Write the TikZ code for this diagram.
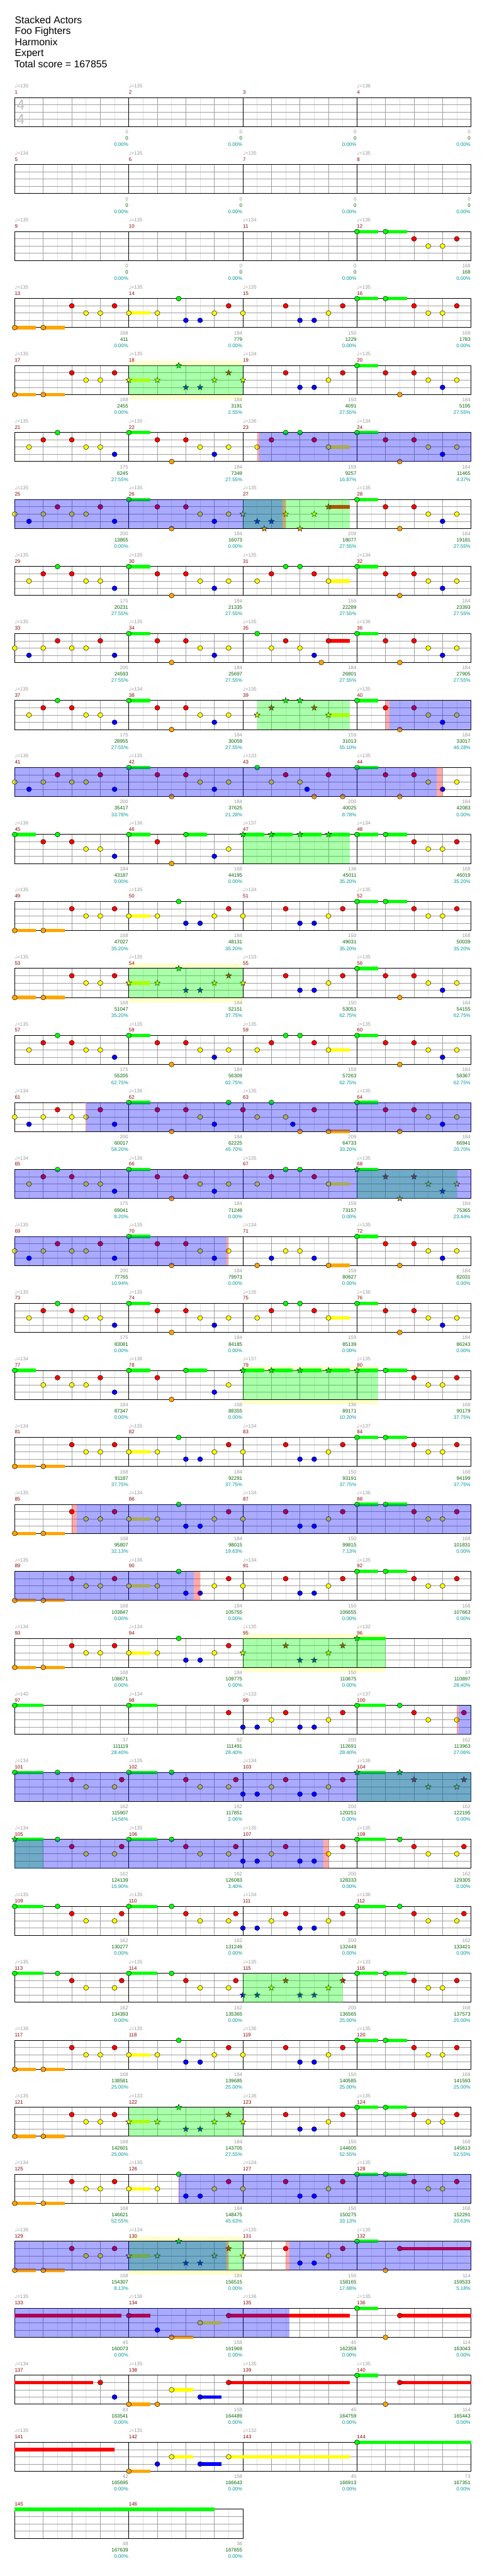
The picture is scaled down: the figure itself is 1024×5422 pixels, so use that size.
\documentclass[tikz,border=0pt]{standalone}
\usepackage{fontspec}
\setmainfont{Liberation Sans}
\newfontfamily\notefont{DejaVu Sans}

\definecolor{lane0}{RGB}{0,255,0}
\definecolor{lane1}{RGB}{255,0,0}
\definecolor{lane2}{RGB}{255,255,0}
\definecolor{lane3}{RGB}{0,0,255}
\definecolor{lane4}{RGB}{255,165,0}
\definecolor{scoregray}{RGB}{153,153,153}
\definecolor{scoregreen}{RGB}{0,100,0}
\definecolor{pctteal}{RGB}{0,150,150}
\definecolor{measred}{RGB}{139,0,0}
\definecolor{gridlight}{RGB}{224,224,224}
\definecolor{gridmid}{RGB}{160,160,160}
\definecolor{phrase}{RGB}{255,255,204}

\tikzset{
  title/.style={anchor=base west, inner sep=0pt, font=\fontsize{21}{24}\selectfont},
  smalltext/.style={inner sep=0pt, font=\fontsize{10.5}{12}\selectfont},
  measnum/.style={smalltext, anchor=base west, text=measred},
  tempolbl/.style={smalltext, anchor=base west, text=scoregray},
  scorelbl/.style={smalltext, anchor=base east, text=scoregray},
  totallbl/.style={smalltext, anchor=base east, text=scoregreen},
  pctlbl/.style={smalltext, anchor=base east, text=pctteal},
  timesig/.style={anchor=base west, inner sep=0pt, text=gray!50, font=\fontsize{30}{30}\selectfont},
  notehead/.style={draw=black, line width=0.6pt},
  gridline/.style={line width=1pt}
}

% one staff of #1 measures
\newcommand\staff[1]{%
  \pgfmathtruncatemacro\nk{8*#1-1}
  \fill[white] (0,0) rectangle ({240*#1},61);
  \foreach \k in {1,3,...,\nk} \draw[gridline, gridlight] ({30*\k},0) -- ({30*\k},61);
  \foreach \l in {1,2,3} \draw[gridline, gridmid] (0,{15.25*\l}) -- ({240*#1},{15.25*\l});
  \foreach \k in {2,4,...,\nk} \draw[gridline, gridmid] ({30*\k},0) -- ({30*\k},61);
  \foreach \k in {1,...,#1} \draw[gridline, black] ({240*\k},0) -- ({240*\k},61);
  \draw[black, line width=1.3pt] (0,0) rectangle ({240*#1},61);
}
% slot/measure/tempo/score/total/percent
\newcommand\labels[1]{%
  \foreach \vs/\vn/\vt/\vg/\vc/\vp in {#1} {
    \node[measnum] (num\vn) at ({240*\vs},-7.5) {\vn};
    \ifnum\vt>0 \node[tempolbl] (tempo\vn) at ({240*\vs},-20.5) {{\notefont ♩}=\vt}; \fi
    \node[scorelbl] (score\vn) at ({240*\vs+239},76) {\vg};
    \node[totallbl] (total\vn) at ({240*\vs+239},89.3) {\vc};
    \node[pctlbl] (pct\vn) at ({240*\vs+239},102.7) {\vp\%};
  }
}
\newcommand\headn[3]{\filldraw[notehead, fill=#3] (#1,#2) ellipse [x radius=5.3, y radius=5.1];}
\newcommand\heads[3]{\filldraw[notehead, fill=#3] ({#1},{#2-6.5})
  \foreach \k in {1,...,9} { -- ({#1+ifthenelse(mod(\k,2)==1,2.7,6.5)*cos(-90+36*\k)},{#2+ifthenelse(mod(\k,2)==1,2.7,6.5)*sin(-90+36*\k)}) } -- cycle;}
% notes of one measure: slot, list pos/lane/hold, n or s
\newcommand\meas[3]{%
  \foreach \p/\l/\s in #2 {
    \pgfmathsetmacro\nx{240*#1+30*\p}
    \pgfmathsetmacro\ny{15.25*\l}
    \ifdim\s pt>0pt \fill[lane\l] (\nx,\ny-3.5) rectangle ({\nx+30*\s},\ny+3.5); \fi
    \csname head#3\endcsname{\nx}{\ny}{lane\l}
  }
}
\newcommand\hold[3]{\fill[lane#1] ({30*#2},{15.25*#1-3.5}) rectangle ({30*#3},{15.25*#1+3.5});}
\newcommand\spband[2]{\fill[phrase] ({30*#1},-10) rectangle ({30*#2},71);}
\newcommand\spfill[2]{\fill[lane0, opacity=0.333] ({30*#1},0) rectangle ({30*#2},61);}
\newcommand\odfill[2]{\fill[blue, opacity=0.333] ({30*#1},0) rectangle ({30*#2},61);}
\newcommand\pinkfill[2]{\fill[red, opacity=0.333] ({30*#1},0) rectangle ({30*#2},61);}
\newcommand\redtick[1]{\draw[red!45, line width=1pt] ({30*#1},0) -- ({30*#1},61);}

% riffs: pos/lane/hold
\def\nA{0/4/1.5,2/4/1.5,4/1/0,5/2/0,6/2/0,7/1/0}
\def\nB{0/2/1.5,2/2/0,3.5/0/0,4/3/0,5/3/0,6/2/0,7/1/0}
\def\nC{0/2/0,3/1/0,4/3/0,5/3/0,6/2/0,7/1/0}
\def\nCr{3/1/0,4/3/0,5/3/0,6/2/0,7/1/0}
\def\nD{0/0/1.5,2/0/1.5,4/1/0,5/2/0,6/2/0,7/1/0}
\def\nDr{2/0/1.5,4/1/0,5/2/0,6/2/0,7/1/0}
\def\nE{0/0/1.5,2/1/0,3/4/0,4/1/0,5/2/0,6/3/0,7/2/0}
\def\nF{1/2/0,2/1/0,3/0/0,4/1/0,5/2/0,6/2/0,7/3/0}
\def\nG{1/2/0,2/1/0,3/0/0,4/0/0,5/1/0,6/2/1.5}
\def\nH{0/2/0,1/3/0,2/2/0,3/1/0,4/2/0,5/2/0,6/1/0,7/3/0}
\def\nI{1/0/0,2/2/0,3/1/0,4/2/0,5/3/0,5.5/4/0,6/1/1.5}
\def\nJ{1/0/0,2/2/0,3/1/0,4/2/0,4.5/3/0,5/4/0,6/1/0,7/4/0}
\def\nK{0/1/0,1/2/0,2/0/0,3/2/0,3.5/3/0,4/4/0,5/1/0,6/4/1.5}
\def\nL{1/4/0,2/3/0,3/2/0,4/2/0,5/3/0,6/4/1.5}
\def\nM{0/2/0,1/3/0,1.5/4/0,2/3/0,3/2/0,4/4/0,5/2/0,6/1/1.5}
\def\nN{0/0/1.5,2/1/0,3/0/0,4/1/0,5/2/0,6/2/0,7/3/0}
\def\nO{0/0/1.5,2/2/0,3/1/0,4/2/0,5/2/0,6/1/0,7/3/0}
\def\nP{0/0/1.5,2/1/0,3/4/0,4/0/1.5,6/3/0,7/2/0}
\def\nQ{0/0/1.5,2/0/1.5,4/0/1.5,6/0/1.5}
\def\nR{0/3/0,1/3/0,2/2/0,3/1/0,4/3/0,5/3/0,6/2/0,7/1/0}
\def\nS{0/0/2,3/0/0,4/1/0,5/2/0,7/2/0,7.5/1/0}
\def\nSr{3/0/0,4/1/0,5/2/0,7/2/0,7.5/1/0}
\def\nT{0/0/1.5,2/1/0,3/4/0,4/1/0,5/2/0,6/3/0,7/0/0}

\begin{document}
\begin{tikzpicture}[x=1pt,y=-1pt]
\useasboundingbox (0,0) rectangle (1024,5422);
\fill[white] (0,0) rectangle (1024,5422);

% header
\node[title] (song) at (31,50) {Stacked Actors};
\node[title] (artist) at (31,72.7) {Foo Fighters};
\node[title] (charter) at (31,95.7) {Harmonix};
\node[title] (level) at (31,118.3) {Expert};
\node[title] (total) at (30,141.7) {Total score = 167855};

% row 1
\begin{scope}[shift={(31,205.5)}]
  \staff{4}
  \node[timesig] (sigtop) at (4,26) {4};
  \node[timesig] (sigbot) at (4,56) {4};
  \labels{0/1/135/0/0/0.00,1/2/135/0/0/0.00,2/3/0/0/0/0.00,3/4/136/0/0/0.00}
\end{scope}
% row 2
\begin{scope}[shift={(31,346.5)}]
  \staff{4}
  \labels{0/5/134/0/0/0.00,1/6/135/0/0/0.00,2/7/135/0/0/0.00,3/8/135/0/0/0.00}
\end{scope}
% row 3
\begin{scope}[shift={(31,487.5)}]
  \staff{4}
  \labels{0/9/135/0/0/0.00,1/10/135/0/0/0.00,2/11/134/0/0/0.00,3/12/136/168/168/0.00}
  \meas{3}{\nD}{n}
\end{scope}
% row 4
\begin{scope}[shift={(31,628.5)}]
  \staff{4}
  \labels{0/13/135/168/411/0.00,1/14/135/184/779/0.00,2/15/135/150/1229/0.00,3/16/135/168/1783/0.00}
  \meas{0}{\nA}{n} \meas{1}{\nB}{n} \meas{2}{\nC}{n} \meas{3}{\nD}{n}
\end{scope}
% row 5
\begin{scope}[shift={(31,769.5)}]
  \spband{8}{16}
  \staff{4}
  \labels{0/17/135/168/2455/0.00,1/18/135/184/3191/2.55,2/19/134/150/4091/27.55,3/20/135/184/5195/27.55}
  \meas{0}{\nA}{n} \meas{1}{\nB}{s} \meas{2}{{0/2/0}}{s} \meas{2}{\nCr}{n} \meas{3}{\nE}{n}
  \spfill{8}{16}
\end{scope}
% row 6
\begin{scope}[shift={(31,910.5)}]
  \staff{4}
  \labels{0/21/135/175/6245/27.55,1/22/135/184/7349/27.55,2/23/136/159/9257/16.87,3/24/134/184/11465/4.37}
  \meas{0}{\nF}{n} \meas{1}{\nE}{n} \meas{2}{\nG}{n} \meas{3}{\nE}{n}
  \pinkfill{17}{17.15} \odfill{17.15}{32}
\end{scope}
% row 7
\begin{scope}[shift={(31,1051.5)}]
  \staff{4}
  \labels{0/25/135/200/13865/0.00,1/26/135/184/16073/0.00,2/27/135/209/18077/27.55,3/28/135/184/19181/27.55}
  \meas{0}{\nH}{n} \meas{1}{\nE}{n} \meas{2}{\nM}{s} \meas{3}{\nE}{n}
  \spfill{16}{23.5} \odfill{0}{18.76} \pinkfill{18.76}{19}
\end{scope}
% row 8
\begin{scope}[shift={(31,1192.5)}]
  \staff{4}
  \labels{0/29/135/175/20231/27.55,1/30/135/184/21335/27.55,2/31/135/159/22289/27.55,3/32/134/184/23393/27.55}
  \meas{0}{\nF}{n} \meas{1}{\nE}{n} \meas{2}{\nG}{n} \meas{3}{\nE}{n}
\end{scope}
% row 9
\begin{scope}[shift={(31,1333.5)}]
  \staff{4}
  \labels{0/33/135/200/24593/27.55,1/34/135/184/25697/27.55,2/35/135/184/26801/27.55,3/36/136/184/27905/27.55}
  \meas{0}{\nH}{n} \meas{1}{\nE}{n} \meas{2}{\nI}{n} \meas{3}{\nE}{n}
\end{scope}
% row 10
\begin{scope}[shift={(31,1474.5)}]
  \staff{4}
  \labels{0/37/135/175/28955/27.55,1/38/134/184/30059/27.55,2/39/135/159/31013/55.10,3/40/135/184/33017/46.28}
  \meas{0}{\nF}{n} \meas{1}{\nE}{n} \meas{2}{\nG}{s} \meas{3}{\nE}{n}
  \spfill{17}{23.5} \pinkfill{26}{26.3} \odfill{26.3}{32}
\end{scope}
% row 11
\begin{scope}[shift={(31,1615.5)}]
  \staff{4}
  \labels{0/41/136/200/35417/33.78,1/42/135/184/37625/21.28,2/43/133/200/40025/8.78,3/44/135/184/42083/0.00}
  \meas{0}{\nH}{n} \meas{1}{\nE}{n} \meas{2}{\nJ}{n} \meas{3}{\nE}{n}
  \odfill{0}{29.6} \pinkfill{29.6}{30}
\end{scope}
% row 12
\begin{scope}[shift={(31,1756.5)}]
  \staff{4}
  \labels{0/45/136/184/43187/0.00,1/46/136/168/44195/0.00,2/47/137/136/45011/35.20,3/48/134/168/46019/35.20}
  \meas{0}{\nN}{n} \meas{1}{\nP}{n} \meas{2}{\nQ}{s} \meas{3}{\nD}{n}
  \spfill{16}{23.5}
\end{scope}
% row 13
\begin{scope}[shift={(31,1897.5)}]
  \staff{4}
  \labels{0/49/135/168/47027/35.20,1/50/135/184/48131/35.20,2/51/134/150/49031/35.20,3/52/135/168/50039/35.20}
  \meas{0}{\nA}{n} \meas{1}{\nB}{n} \meas{2}{\nC}{n} \meas{3}{\nD}{n}
\end{scope}
% row 14
\begin{scope}[shift={(31,2038.5)}]
  \spband{8}{16}
  \staff{4}
  \labels{0/53/135/168/51047/35.20,1/54/135/184/52151/37.75,2/55/133/150/53051/62.75,3/56/135/184/54155/62.75}
  \meas{0}{\nA}{n} \meas{1}{\nB}{s} \meas{2}{{0/2/0}}{s} \meas{2}{\nCr}{n} \meas{3}{\nE}{n}
  \spfill{8}{16}
\end{scope}
% row 15
\begin{scope}[shift={(31,2179.5)}]
  \staff{4}
  \labels{0/57/135/175/55205/62.75,1/58/135/184/56309/62.75,2/59/135/159/57263/62.75,3/60/135/184/58367/62.75}
  \meas{0}{\nF}{n} \meas{1}{\nE}{n} \meas{2}{\nG}{n} \meas{3}{\nE}{n}
\end{scope}
% row 16
\begin{scope}[shift={(31,2320.5)}]
  \staff{4}
  \labels{0/61/134/200/60017/58.20,1/62/136/184/62225/45.70,2/63/135/209/64733/33.20,3/64/135/184/66941/20.70}
  \meas{0}{\nH}{n} \meas{1}{\nT}{n} \meas{2}{\nK}{n} \meas{3}{\nE}{n}
  \redtick{5} \odfill{5}{32}
\end{scope}
% row 17
\begin{scope}[shift={(31,2461.5)}]
  \staff{4}
  \labels{0/65/134/175/69041/8.20,1/66/136/184/71249/0.00,2/67/135/159/73157/0.00,3/68/135/184/75365/23.44}
  \meas{0}{\nF}{n} \meas{1}{\nE}{n} \meas{2}{\nG}{n} \meas{3}{\nE}{s}
  \spfill{24}{31} \odfill{0}{32}
\end{scope}
% row 18
\begin{scope}[shift={(31,2602.5)}]
  \staff{4}
  \labels{0/69/135/200/77765/10.94,1/70/135/184/79973/0.00,2/71/134/159/80927/0.00,3/72/135/184/82031/0.00}
  \meas{0}{\nH}{n} \meas{1}{\nE}{n} \meas{2}{\nL}{n} \meas{3}{\nE}{n}
  \odfill{0}{14.85} \pinkfill{14.85}{15}
\end{scope}
% row 19
\begin{scope}[shift={(31,2743.5)}]
  \staff{4}
  \labels{0/73/135/175/83081/0.00,1/74/135/184/84185/0.00,2/75/135/159/85139/0.00,3/76/136/184/86243/0.00}
  \meas{0}{\nF}{n} \meas{1}{\nE}{n} \meas{2}{\nG}{n} \meas{3}{\nE}{n}
\end{scope}
% row 20
\begin{scope}[shift={(31,2884.5)}]
  \spband{16}{25.5}
  \staff{4}
  \labels{0/77/134/184/87347/0.00,1/78/136/168/88355/0.00,2/79/137/136/89171/10.20,3/80/135/168/90179/37.75}
  \meas{0}{\nO}{n} \meas{1}{\nP}{n} \meas{2}{\nQ}{s} \meas{3}{{0/0/1.5}}{s} \meas{3}{\nDr}{n}
  \spfill{16}{25.5}
\end{scope}
% row 21
\begin{scope}[shift={(31,3025.5)}]
  \staff{4}
  \labels{0/81/134/168/91187/37.75,1/82/135/184/92291/37.75,2/83/134/150/93191/37.75,3/84/137/168/94199/37.75}
  \meas{0}{\nA}{n} \meas{1}{\nB}{n} \meas{2}{\nC}{n} \meas{3}{\nD}{n}
\end{scope}
% row 22
\begin{scope}[shift={(31,3166.5)}]
  \staff{4}
  \labels{0/85/135/168/95807/32.13,1/86/134/184/98015/19.63,2/87/134/150/99815/7.13,3/88/136/168/101831/0.00}
  \meas{0}{\nA}{n} \meas{1}{\nB}{n} \meas{2}{\nC}{n} \meas{3}{\nD}{n}
  \pinkfill{4}{4.35} \odfill{4.35}{32}
\end{scope}
% row 23
\begin{scope}[shift={(31,3307.5)}]
  \staff{4}
  \labels{0/89/135/168/103847/0.00,1/90/136/184/105755/0.00,2/91/134/150/106655/0.00,3/92/135/168/107663/0.00}
  \meas{0}{\nA}{n} \meas{1}{\nB}{n} \meas{2}{\nC}{n} \meas{3}{\nD}{n}
  \odfill{0}{12.56} \pinkfill{12.56}{13}
\end{scope}
% row 24
\begin{scope}[shift={(31,3448.5)}]
  \spband{16}{26}
  \staff{4}
  \labels{0/93/134/168/108671/0.00,1/94/134/184/109775/0.00,2/95/135/150/110675/0.00,3/96/132/37/110897/28.40}
  \meas{0}{\nA}{n} \meas{1}{\nB}{n} \meas{2}{\nC}{s} \meas{3}{{0/0/2}}{s}
  \spfill{16}{26}
\end{scope}
% row 25
\begin{scope}[shift={(31,3589.5)}]
  \staff{4}
  \labels{0/97/140/37/111119/28.40,1/98/134/62/111491/28.40,2/99/133/200/112691/28.40,3/100/137/162/113963/27.06}
  \meas{0}{{0/0/2}}{n} \meas{1}{{0/0/2,7/1/0}}{n} \meas{2}{\nR}{n} \meas{3}{\nS}{n}
  \pinkfill{31}{31.13} \odfill{31.13}{32}
\end{scope}
% row 26
\begin{scope}[shift={(31,3730.5)}]
  \staff{4}
  \labels{0/101/134/162/115907/14.56,1/102/135/162/117851/2.06,2/103/134/200/120251/0.00,3/104/136/162/122195/0.00}
  \meas{0}{\nS}{n} \meas{1}{\nS}{n} \meas{2}{\nR}{n} \meas{3}{\nS}{s}
  \spfill{24}{32} \odfill{0}{32}
\end{scope}
% row 27
\begin{scope}[shift={(31,3871.5)}]
  \staff{4}
  \labels{0/105/134/162/124139/15.90,1/106/135/162/126083/3.40,2/107/135/200/128333/0.00,3/108/135/162/129305/0.00}
  \meas{0}{{0/0/2}}{s} \meas{0}{\nSr}{n} \meas{1}{\nS}{n} \meas{2}{\nR}{n} \meas{3}{\nS}{n}
  \spfill{0}{2} \odfill{0}{21.66} \pinkfill{21.66}{22}
\end{scope}
% row 28
\begin{scope}[shift={(31,4012.5)}]
  \staff{4}
  \labels{0/109/135/162/130277/0.00,1/110/135/162/131249/0.00,2/111/134/200/132449/0.00,3/112/136/162/133421/0.00}
  \meas{0}{\nS}{n} \meas{1}{\nS}{n} \meas{2}{\nR}{n} \meas{3}{\nS}{n}
\end{scope}
% row 29
\begin{scope}[shift={(31,4153.5)}]
  \staff{4}
  \labels{0/113/135/162/134393/0.00,1/114/135/162/135365/0.00,2/115/135/200/136565/25.00,3/116/133/168/137573/25.00}
  \meas{0}{\nS}{n} \meas{1}{\nS}{n} \meas{2}{\nR}{s} \meas{3}{\nD}{n}
  \spfill{16}{23}
\end{scope}
% row 30
\begin{scope}[shift={(31,4294.5)}]
  \staff{4}
  \labels{0/117/136/168/138581/25.00,1/118/135/184/139685/25.00,2/119/136/150/140585/25.00,3/120/135/168/141593/25.00}
  \meas{0}{\nA}{n} \meas{1}{\nB}{n} \meas{2}{\nC}{n} \meas{3}{\nD}{n}
\end{scope}
% row 31
\begin{scope}[shift={(31,4435.5)}]
  \staff{4}
  \labels{0/121/135/168/142601/25.00,1/122/133/184/143705/27.55,2/123/136/150/144605/52.55,3/124/135/168/145613/52.55}
  \meas{0}{\nA}{n} \meas{1}{\nB}{s} \meas{2}{{0/2/0}}{s} \meas{2}{\nCr}{n} \meas{3}{\nD}{n}
  \spfill{8}{16}
\end{scope}
% row 32
\begin{scope}[shift={(31,4576.5)}]
  \staff{4}
  \labels{0/125/134/168/146621/52.55,1/126/135/184/148475/45.63,2/127/134/150/150275/33.13,3/128/135/168/152291/20.63}
  \meas{0}{\nA}{n} \meas{1}{\nB}{n} \meas{2}{\nC}{n} \meas{3}{\nD}{n}
  \redtick{11.5} \odfill{11.5}{32}
\end{scope}
% row 33
\begin{scope}[shift={(31,4717.5)}]
  \spband{8}{16}
  \staff{4}
  \labels{0/129/136/168/154307/8.13,1/130/134/184/156515/0.00,2/131/135/150/158165/17.68,3/132/135/114/159533/5.18}
  \meas{0}{\nA}{n} \meas{1}{\nB}{s} \meas{2}{{0/2/0}}{s} \meas{2}{\nCr}{n} \meas{3}{{0/0/1.5,2/4/0,3/1/5}}{n}
  \spfill{8}{16} \odfill{0}{14.85} \pinkfill{14.85}{15} \pinkfill{19}{19.26} \odfill{19.26}{32}
\end{scope}
% row 34
\begin{scope}[shift={(31,4858.5)}]
  \staff{4}
  \labels{0/133/135/45/160073/0.00,1/134/136/158/161969/0.00,2/135/136/45/162359/0.00,3/136/135/114/163043/0.00}
  \hold{1}{0}{7.5}
  \meas{1}{{0/1/1.5,2/3/0,3/4/1.5,5/2/1.5,7/1/8.5}}{n} \meas{3}{{0/0/1.5,2/4/0,3/1/5}}{n}
  \odfill{0}{19.26}
\end{scope}
% row 35
\begin{scope}[shift={(31,4999.5)}]
  \staff{4}
  \labels{0/137/134/83/163541/0.00,1/138/135/158/164489/0.00,2/139/135/45/164759/0.00,3/140/135/114/165443/0.00}
  \hold{1}{0}{5.5}
  \meas{0}{{6/1/0,7/3/0}}{n} \meas{1}{{0/4/1.5,2/4/0,3/2/1.5,5/3/1.5,7/1/8.5}}{n} \meas{3}{{0/0/1.5,2/4/0,3/1/5}}{n}
\end{scope}
% row 36
\begin{scope}[shift={(31,5140.5)}]
  \staff{4}
  \labels{0/141/135/42/165695/0.00,1/142/135/158/166643/0.00,2/143/132/45/166913/0.00,3/144/0/73/167351/0.00}
  \hold{1}{0}{7}
  \meas{1}{{0/4/1.5,2/3/0,3/2/1.5,5/3/1.5,7/2/8.5}}{n} \meas{3}{{0/0/8}}{n}
\end{scope}
% row 37
\begin{scope}[shift={(31,5281.5)}]
  \staff{2}
  \labels{0/145/0/48/167639/0.00,1/146/0/36/167855/0.00}
  \hold{0}{0}{14}
\end{scope}
\end{tikzpicture}
\end{document}
